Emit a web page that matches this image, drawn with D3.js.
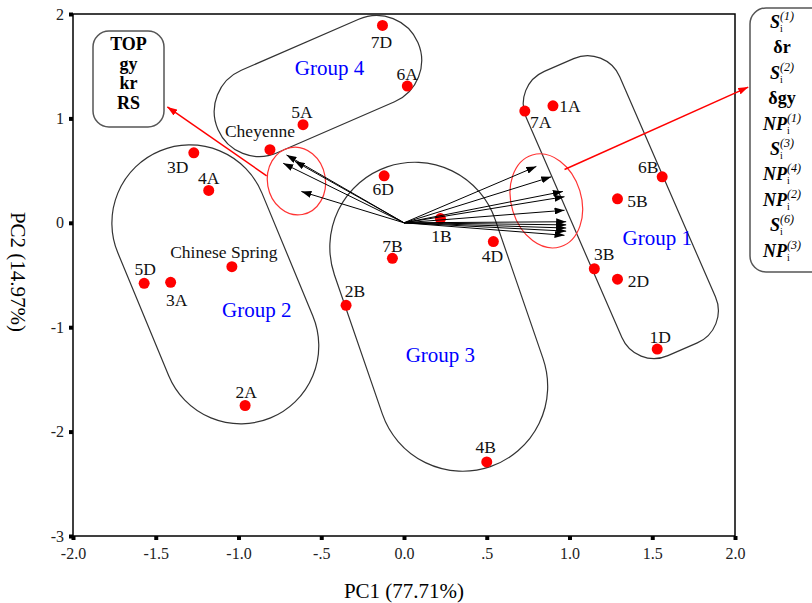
<!DOCTYPE html>
<html>
<head>
<meta charset="utf-8">
<script src="https://cdn.jsdelivr.net/npm/d3@7"></script>
<style>
  body { margin: 0; background: #fff; }
  text { font-family: "Liberation Serif", "Times New Roman", serif; }
</style>
</head>
<body>
<div id="chart"></div>
<script>
// genotype scores
let genotypes = ['7D', '6A', '5A', 'Cheyenne', '3D', '4A', '6D', '1B', '7B', '4D', '2B',
  'Chinese Spring', '5D', '3A', '2A', '4B', '7A', '1A', '6B', '5B', '3B', '2D', '1D'];
let pc1 = [-0.13, 0.02, -0.61, -0.81, -1.27, -1.18, -0.12, 0.22, -0.07, 0.54, -0.35,
  -1.04, -1.57, -1.41, -0.96, 0.50, 0.73, 0.90, 1.56, 1.29, 1.15, 1.29, 1.53];
let pc2 = [1.89, 1.31, 0.94, 0.70, 0.67, 0.31, 0.45, 0.04, -0.34, -0.18, -0.79,
  -0.42, -0.58, -0.57, -1.75, -2.29, 1.07, 1.12, 0.44, 0.23, -0.44, -0.54, -1.21];

// loading vectors (arrow tips)
let rightVecX = [0.80, 0.89, 0.96, 0.97, 0.97, 0.98, 0.98, 0.98, 0.98, 0.97];
let rightVecY = [0.54, 0.44, 0.30, 0.25, 0.12, 0.01, -0.02, -0.05, -0.08, -0.12];
let leftVecX = [-0.71, -0.66, -0.73, -0.62];
let leftVecY = [0.65, 0.59, 0.57, 0.30];

// legend boxes
let leftVars = ['TOP', 'gy', 'kr', 'RS'];
let rightVars = [['S', 'i', '(1)'], ['δr'], ['S', 'i', '(2)'], ['δgy'], ['NP', 'i', '(1)'],
  ['S', 'i', '(3)'], ['NP', 'i', '(4)'], ['NP', 'i', '(2)'], ['S', 'i', '(6)'], ['NP', 'i', '(3)']];

// ticks
let xTicks = [-2, -1.5, -1, -0.5, 0, 0.5, 1, 1.5, 2];
let xTickLabels = ['-2.0', '-1.5', '-1.0', '-.5', '0.0', '.5', '1.0', '1.5', '2.0'];
let yTicks = [2, 1, 0, -1, -2, -3];
let yTickLabels = ['2', '1', '0', '-1', '-2', '-3'];

let groupNames = ['Group 1', 'Group 2', 'Group 3', 'Group 4'];

let width = 812, height = 603;
let margin = { top: 14, left: 73, right: 77, bottom: 67 };

let svg = d3.select('#chart').append('svg')
  .attr('width', width)
  .attr('height', height);

let xScale = d3.scaleLinear().domain([-2, 2]).range([margin.left, width - margin.right]);
let yScale = d3.scaleLinear().domain([-3, 2]).range([height - margin.bottom, margin.top]);

// arrow markers
let defs = svg.append('defs');
function marker(id, color) {
  defs.append('marker')
    .attr('id', id)
    .attr('viewBox', '0 0 10 7')
    .attr('refX', 10).attr('refY', 3.5)
    .attr('markerWidth', 10).attr('markerHeight', 7)
    .attr('markerUnits', 'userSpaceOnUse')
    .attr('orient', 'auto')
    .append('path').attr('d', 'M0,0L10,3.5L0,7z').attr('fill', color);
}
marker('ahBlack', '#000');
marker('ahRed', '#f00');

// axes with square ticks
let xAxis = svg.append('g')
  .attr('transform', `translate(0,${height - margin.bottom})`)
  .call(d3.axisBottom(xScale).tickValues(xTicks).tickSize(4).tickPadding(8)
    .tickFormat((d, i) => xTickLabels[i]));
let yAxis = svg.append('g')
  .attr('transform', `translate(${margin.left},0)`)
  .call(d3.axisLeft(yScale).tickValues(yTicks).tickSize(4).tickPadding(5)
    .tickFormat((d, i) => yTickLabels[i]));
[xAxis, yAxis].forEach(function(a) {
  a.select('.domain').remove();
  a.selectAll('.tick line').attr('stroke', '#000').attr('stroke-width', 4);
  a.selectAll('.tick text')
    .style('font-family', '"Liberation Serif", serif')
    .style('font-size', '16px')
    .attr('fill', '#222');
});

// plot frame
svg.append('rect')
  .attr('x', xScale(-2)).attr('y', yScale(2))
  .attr('width', xScale(2) - xScale(-2))
  .attr('height', yScale(-3) - yScale(2))
  .attr('fill', 'none').attr('stroke', '#000').attr('stroke-width', 1.5);

// group outlines: centre in data units, size in px, angle in degrees
let groupShapes = [
  { cx: 1.31, cy: 0.15, len: 310, wid: 102, r: 35, angle: 66.5, lx: 1.53, ly: -0.21 },
  { cx: -1.14, cy: -0.59, len: 289, wid: 156, r: 78, angle: 67.5, lx: -0.89, ly: -0.90 },
  { cx: 0.21, cy: -0.90, len: 317, wid: 170, r: 85, angle: 71, lx: 0.22, ly: -1.33 },
  { cx: -0.52, cy: 1.31, len: 218, wid: 90, r: 45, angle: -23.5, lx: -0.45, ly: 1.415 }
];
groupShapes.forEach(function(g) {
  svg.append('rect')
    .attr('x', -g.len / 2).attr('y', -g.wid / 2)
    .attr('width', g.len).attr('height', g.wid)
    .attr('rx', g.r).attr('ry', g.r)
    .attr('transform', `translate(${xScale(g.cx)},${yScale(g.cy)}) rotate(${g.angle})`)
    .attr('fill', 'none').attr('stroke', '#333').attr('stroke-width', 1.2);
});

// red highlight ellipses and connectors
let ellipses = [
  { cx: 0.86, cy: 0.21, rx: 35, ry: 48, rot: -17 },
  { cx: -0.65, cy: 0.40, rx: 29, ry: 34, rot: -10 }
];
ellipses.forEach(function(e) {
  svg.append('ellipse')
    .attr('rx', e.rx).attr('ry', e.ry)
    .attr('transform', `translate(${xScale(e.cx)},${yScale(e.cy)}) rotate(${e.rot})`)
    .attr('fill', 'none').attr('stroke', '#f33').attr('stroke-width', 1.2);
});
let connectors = [
  [0.97, 0.51, 2.08, 1.30],
  [-0.83, 0.45, -1.43, 1.11]
];
connectors.forEach(function(c) {
  svg.append('line')
    .attr('x1', xScale(c[0])).attr('y1', yScale(c[1]))
    .attr('x2', xScale(c[2])).attr('y2', yScale(c[3]))
    .attr('stroke', '#f00').attr('stroke-width', 1.5)
    .attr('marker-end', 'url(#ahRed)');
});

// points
let points = genotypes.map((g, i) => ({ name: g, x: pc1[i], y: pc2[i] }));
svg.selectAll('circle.pt')
  .data(points)
  .enter()
  .append('circle')
  .attr('class', 'pt')
  .attr('cx', d => xScale(d.x))
  .attr('cy', d => yScale(d.y))
  .attr('r', 5.5)
  .attr('fill', '#f00');

// loading arrows
let vectors = rightVecX.map((v, i) => [v, rightVecY[i]])
  .concat(leftVecX.map((v, i) => [v, leftVecY[i]]));
svg.selectAll('line.vec')
  .data(vectors)
  .enter()
  .append('line')
  .attr('class', 'vec')
  .attr('x1', xScale(0)).attr('y1', yScale(0))
  .attr('x2', d => xScale(d[0])).attr('y2', d => yScale(d[1]))
  .attr('stroke', '#000').attr('stroke-width', 1)
  .attr('marker-end', 'url(#ahBlack)');

// point labels: offset from the dot in px
let labelOffset = {
  '7D': [-1, 23], '6A': [0, -6], '5A': [-1, -7], 'Cheyenne': [-10, -13], '3D': [-16, 20],
  '4A': [0, -6], '6D': [-1, 19], '1B': [1, 23], '7B': [0, -6], '4D': [-1, 20], '2B': [9, -8],
  'Chinese Spring': [-8, -9], '5D': [1, -8], '3A': [6, 24], '2A': [1, -8], '4B': [-1, -9],
  '7A': [16, 17], '1A': [17, 6], '6B': [-14, -4], '5B': [20, 8], '3B': [10, -9], '2D': [21, 8],
  '1D': [3, -6]
};
svg.selectAll('text.lbl')
  .data(points)
  .enter()
  .append('text')
  .attr('class', 'lbl')
  .attr('x', d => xScale(d.x) + labelOffset[d.name][0])
  .attr('y', d => yScale(d.y) + labelOffset[d.name][1])
  .attr('text-anchor', 'middle')
  .style('font-size', '17.5px')
  .attr('fill', '#111')
  .text(d => d.name);

// group names
svg.selectAll('text.grp')
  .data(groupShapes)
  .enter()
  .append('text')
  .attr('class', 'grp')
  .attr('x', d => xScale(d.lx))
  .attr('y', d => yScale(d.ly))
  .attr('text-anchor', 'middle')
  .style('font-size', '21px')
  .attr('fill', '#0000ff')
  .text((d, i) => groupNames[i]);

// left variable box
svg.append('rect')
  .attr('x', 93).attr('y', 31).attr('width', 71).attr('height', 96)
  .attr('rx', 16).attr('fill', '#fff').attr('stroke', '#555').attr('stroke-width', 1.5);
svg.selectAll('text.lv')
  .data(leftVars)
  .enter()
  .append('text')
  .attr('x', 128.5)
  .attr('y', (d, i) => 50 + i * 19.5)
  .attr('text-anchor', 'middle')
  .style('font-size', '18px')
  .style('font-weight', 'bold')
  .text(d => d);

// right variable box
svg.append('rect')
  .attr('x', 750).attr('y', 8).attr('width', 80).attr('height', 264)
  .attr('rx', 16).attr('fill', '#fff').attr('stroke', '#555').attr('stroke-width', 1.5);
let rv = svg.selectAll('text.rv')
  .data(rightVars)
  .enter()
  .append('text')
  .attr('x', 782)
  .attr('y', (d, i) => 28 + i * 25.4)
  .attr('text-anchor', 'middle')
  .style('font-size', '18px')
  .style('font-weight', 'bold');
rv.each(function(d) {
  let t = d3.select(this);
  if (d.length == 1) {
    t.text(d[0]);
    return;
  }
  t.append('tspan').style('font-style', 'italic').text(d[0]);
  t.append('tspan').style('font-size', '10px').style('font-weight', 'normal')
    .attr('dy', 4).text(d[1]);
  t.append('tspan').style('font-size', '12px').style('font-style', 'italic')
    .style('font-weight', 'normal').attr('dx', -3).attr('dy', -12).text(d[2]);
});

// axis titles
svg.append('text')
  .attr('x', xScale(0))
  .attr('y', 598)
  .attr('text-anchor', 'middle')
  .style('font-size', '21px')
  .text('PC1 (77.71%)');
svg.append('text')
  .attr('transform', 'translate(18,272) rotate(90)')
  .attr('text-anchor', 'middle')
  .attr('dominant-baseline', 'central')
  .style('font-size', '21px')
  .text('PC2 (14.97%)');
</script>
</body>
</html>
